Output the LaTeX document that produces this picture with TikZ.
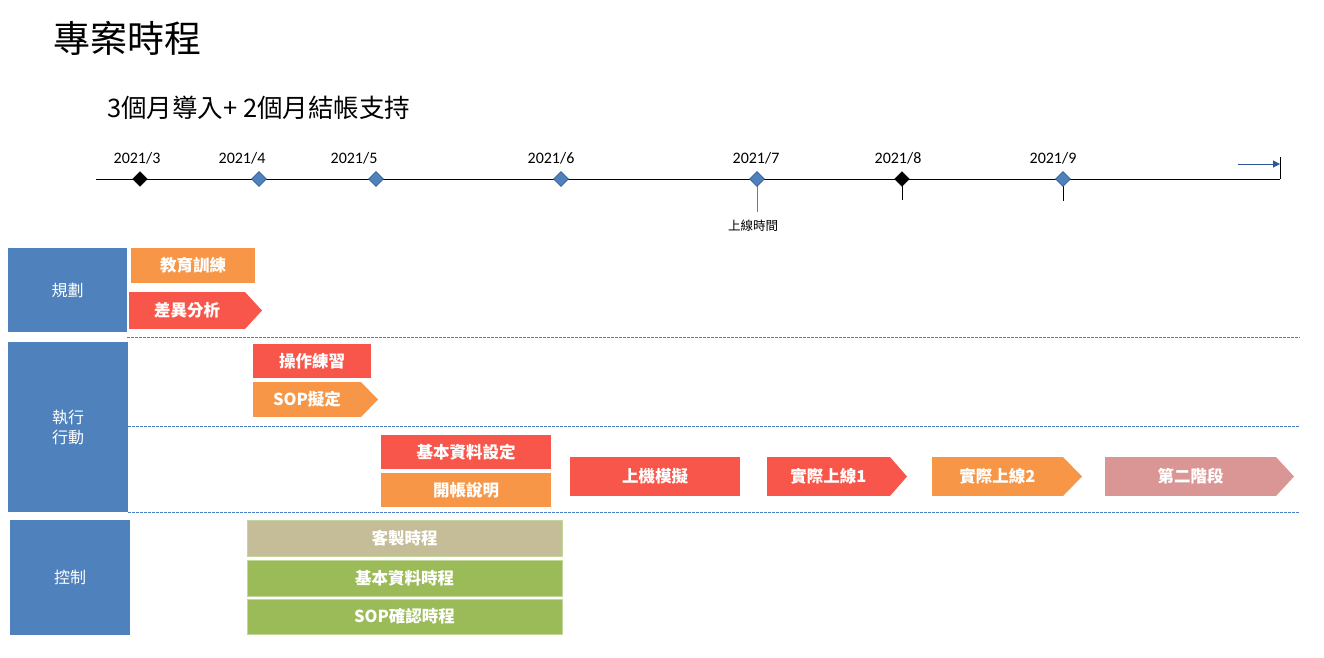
\documentclass[tikz,border=0pt]{standalone}
\usepackage{fontspec}
\newfontfamily\cjk{Noto Sans CJK TC}
\newfontfamily\lat{Carlito}
\usetikzlibrary{shapes.geometric,arrows.meta}
\definecolor{cblue}{HTML}{4F81BD}
\definecolor{cblued}{HTML}{385D8A}
\definecolor{corange}{HTML}{F79646}
\definecolor{cred}{HTML}{F8564A}
\definecolor{cpink}{HTML}{D99694}
\definecolor{ctan}{HTML}{C4BD97}
\definecolor{cgreen}{HTML}{9BBB59}
\definecolor{cgreenb}{HTML}{C3D69B}
\definecolor{cdash}{HTML}{4A7EC2}
\definecolor{carrow}{HTML}{2F5597}
\tikzset{
  box/.style={anchor=north west, inner sep=0pt, outer sep=0pt, text=white},
  lane/.style={box, fill=cblue, font=\cjk\fontsize{16}{20}\selectfont, align=center},
  bar/.style={box, font=\cjk\bfseries\fontsize{16.5}{18}\selectfont},
  sep/.style={cdash, dashed, dash pattern=on 2.5pt off 1.5pt, line width=0.9pt},
  bluediam/.style={diamond, shape aspect=1, minimum size=15pt, inner sep=0pt, draw=cblued, fill=cblue, line width=0.6pt},
  blackdiam/.style={diamond, shape aspect=1, minimum size=15pt, inner sep=0pt, draw=black, fill=black},
  yr/.style={font=\lat\fontsize{16}{18}\selectfont, anchor=base},
}
\begin{document}
\begin{tikzpicture}[x=1pt,y=-1pt]
\useasboundingbox[fill=white] (0,0) rectangle (1324,657);
% titles
\node[anchor=base west, inner sep=0pt, font=\cjk\fontsize{37}{40}\selectfont] (title) at (53,52) {專案時程};
\node[anchor=base west, inner sep=0pt, font=\cjk\fontsize{25.5}{28}\selectfont] (sub) at (107,117) {3個月導入+ 2個月結帳支持};
% timeline
\coordinate (tl0) at (96,179);
\coordinate (tl1) at (1280,179);
\coordinate (tk) at (1280,157);
\draw[line width=1pt] (tl0) -- (tl1);
\draw[line width=1pt] (tk) -- (tl1);
\coordinate (a0) at (1238,164);
\coordinate (a1) at (1280,164);
\draw[carrow, line width=1pt, -{Triangle[length=7pt,width=7pt]}] (a0) -- (a1);
% markers
\coordinate (s7) at (757,212);
\coordinate (s8) at (902,200);
\coordinate (s9) at (1063,201);
\draw[cblue, line width=1pt] (757,186) -- (s7);
\draw[line width=1pt] (902,186) -- (s8);
\draw[line width=1pt] (1063,186) -- (s9);
\node[blackdiam] (m3) at (140,179) {};
\node[bluediam] (m4) at (259,179) {};
\node[bluediam] (m5) at (376,179) {};
\node[bluediam] (m6) at (561,179) {};
\node[bluediam] (m7) at (757,179) {};
\node[blackdiam] (m8) at (902,179) {};
\node[bluediam] (m9) at (1063,179) {};
\node[yr] (y3) at (137,163) {2021/3};
\node[yr] (y4) at (242,163) {2021/4};
\node[yr] (y5) at (354,163) {2021/5};
\node[yr] (y6) at (551,163) {2021/6};
\node[yr] (y7) at (756,163) {2021/7};
\node[yr] (y8) at (898,163) {2021/8};
\node[yr] (y9) at (1053,163) {2021/9};
\node[anchor=base, inner sep=0pt, font=\cjk\fontsize{12.5}{14}\selectfont] (golive) at (753,230) {上線時間};
% lanes
\node[lane, minimum width=119pt, minimum height=84pt] (L1) at (8,248) {規劃};
\node[lane, minimum width=120pt, minimum height=170pt] (L2) at (8,342) {執行\\行動};
\node[lane, minimum width=120pt, minimum height=115pt] (L3) at (10,520) {控制};
% separators
\coordinate (d1a) at (127,337); \coordinate (d1b) at (1300,337);
\coordinate (d2a) at (128,426); \coordinate (d2b) at (1300,426);
\coordinate (d3a) at (128,512); \coordinate (d3b) at (1300,512);
\draw[sep] (d1a) -- (d1b);
\draw[sep] (d2a) -- (d2b);
\draw[sep] (d3a) -- (d3b);
% planning
\node[bar, fill=corange, minimum width=124pt, minimum height=35pt] (t1) at (131,248) {教育訓練};
\node[bar, fill=cred, minimum width=116pt, minimum height=37pt] (t2) at (129,292) {差異分析};
\fill[cred] (t2.north east) -- ++(17,18.5) -- (t2.south east) -- cycle;
% execution
\node[bar, fill=cred, minimum width=118pt, minimum height=34pt] (t3) at (253,344) {操作練習};
\node[bar, fill=corange, minimum width=108pt, minimum height=35pt] (t4) at (253,382) {SOP擬定};
\fill[corange] (t4.north east) -- ++(17,17.5) -- (t4.south east) -- cycle;
\node[bar, fill=cred, minimum width=170pt, minimum height=34pt] (t5) at (381,435) {基本資料設定};
\node[bar, fill=corange, minimum width=170pt, minimum height=34pt] (t6) at (381,473) {開帳說明};
\node[bar, fill=cred, minimum width=170pt, minimum height=39pt] (t7) at (570,457) {上機模擬};
\node[bar, fill=cred, minimum width=123pt, minimum height=39pt] (t8) at (767,457) {實際上線1};
\fill[cred] (t8.north east) -- ++(17,19.5) -- (t8.south east) -- cycle;
\node[bar, fill=corange, minimum width=131pt, minimum height=39pt] (t9) at (932,457) {實際上線2};
\fill[corange] (t9.north east) -- ++(19,19.5) -- (t9.south east) -- cycle;
\node[bar, fill=cpink, minimum width=171pt, minimum height=39pt] (t10) at (1105,457) {第二階段};
\fill[cpink] (t10.north east) -- ++(18,19.5) -- (t10.south east) -- cycle;
% control
\node[bar, fill=ctan, draw=cgreenb, line width=0.8pt, minimum width=315pt, minimum height=36pt] (t11) at (247,520) {客製時程};
\node[bar, fill=cgreen, draw=cgreenb, line width=0.8pt, minimum width=315pt, minimum height=36pt] (t12) at (247,560) {基本資料時程};
\node[bar, fill=cgreen, draw=cgreenb, line width=0.8pt, minimum width=315pt, minimum height=35pt] (t13) at (247,599) {SOP確認時程};
\end{tikzpicture}
\end{document}
